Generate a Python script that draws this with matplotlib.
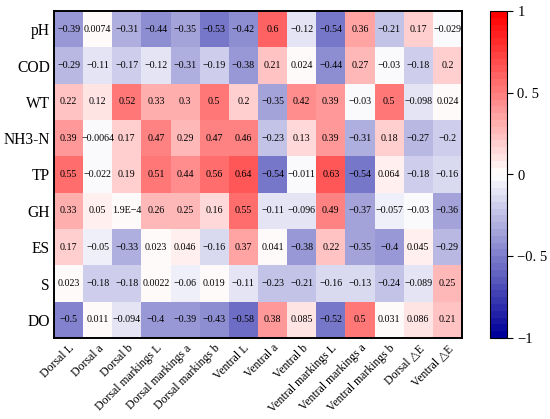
import numpy as np
import matplotlib
matplotlib.use("Agg")
import matplotlib.pyplot as plt
from matplotlib.colors import LinearSegmentedColormap

plt.rcParams['font.family'] = ['Liberation Serif', 'DejaVu Serif']

#------------------------------------------------------------------------------#

rows = ["pH", "COD", "WT", "NH3-N", "TP", "GH", "ES", "S", "DO"]
cols = ["Dorsal L", "Dorsal a", "Dorsal b", "Dorsal markings L",
        "Dorsal markings a", "Dorsal markings b", "Ventral L", "Ventral a",
        "Ventral b", "Ventral markings L", "Ventral markings a",
        "Ventral markings b", "Dorsal \u25b3E", "Ventral \u25b3E"]

r_pH = [-0.39, 0.0074, -0.31, -0.44, -0.35, -0.53, -0.42, 0.6, -0.12, -0.54, 0.36, -0.21, 0.17, -0.029]
r_COD = [-0.29, -0.11, -0.17, -0.12, -0.31, -0.19, -0.38, 0.21, 0.024, -0.44, 0.27, -0.03, -0.18, 0.2]
r_WT = [0.22, 0.12, 0.52, 0.33, 0.3, 0.5, 0.2, -0.35, 0.42, 0.39, -0.03, 0.5, -0.098, 0.024]
r_NH3N = [0.39, -0.0064, 0.17, 0.47, 0.29, 0.47, 0.46, -0.23, 0.13, 0.39, -0.31, 0.18, -0.27, -0.2]
r_TP = [0.55, -0.022, 0.19, 0.51, 0.44, 0.56, 0.64, -0.54, -0.011, 0.63, -0.54, 0.064, -0.18, -0.16]
r_GH = [0.33, 0.05, 1.9e-4, 0.26, 0.25, 0.16, 0.55, -0.11, -0.096, 0.49, -0.37, -0.057, -0.03, -0.36]
r_ES = [0.17, -0.05, -0.33, 0.023, 0.046, -0.16, 0.37, 0.041, -0.38, 0.22, -0.35, -0.4, 0.045, -0.29]
r_S = [0.023, -0.18, -0.18, 0.0022, -0.06, 0.019, -0.11, -0.23, -0.21, -0.16, -0.13, -0.24, -0.089, 0.25]
r_DO = [-0.5, 0.011, -0.094, -0.4, -0.39, -0.43, -0.58, 0.38, 0.085, -0.52, 0.5, 0.031, 0.086, 0.21]

cbar_ticks = [-1, -0.5, 0, 0.5, 1]
cbar_labels = ["\u22121", "\u22120. 5", "0", "0. 5", "1"]


def fmt(v):
    if v != 0 and abs(v) < 1e-3:
        m, e = ("%.1e" % v).split("e")
        s = "%sE%d" % (m, int(e))
    else:
        s = "%.2g" % v
    return s.replace("-", "\u2212")


data = np.array([r_pH, r_COD, r_WT, r_NH3N, r_TP, r_GH, r_ES, r_S, r_DO])

cmap = LinearSegmentedColormap.from_list(
    "bwr_dark", ["#00009a", "#ffffff", "#ff0000"], N=48)

fig = plt.figure(figsize=(5.5, 4.19), dpi=100)
ax = fig.add_axes([54/550, 1 - 338/419, (462-54)/550, (338-11)/419])
cax = fig.add_axes([490/550, 1 - 338/419, 17/550, (338-11)/419])

mesh = ax.pcolormesh(data, cmap=cmap, vmin=-1, vmax=1)
ax.set_xlim(0, len(cols))
ax.set_ylim(len(rows), 0)

for i in range(len(rows)):
    for j in range(len(cols)):
        ax.text(j + 0.5, i + 0.5, fmt(data[i, j]), ha='center', va='center',
                fontsize=7.2, color='black')

ax.set_xticks(np.arange(len(cols)) + 0.5)
ax.set_xticklabels(cols, rotation=45, ha='right', rotation_mode='anchor',
                   fontsize=8.5)
ax.set_yticks(np.arange(len(rows)) + 0.5)
ax.set_yticklabels(rows, fontsize=11.2)
ax.tick_params(length=0, pad=3)
for sp in ax.spines.values():
    sp.set_linewidth(1.4)

cb = fig.colorbar(mesh, cax=cax)
cb.set_ticks(cbar_ticks)
cb.set_ticklabels(cbar_labels)
cb.ax.tick_params(labelsize=10.5, length=4, width=0.8)
cb.outline.set_linewidth(0.8)

plt.savefig("out.png", dpi=100)
